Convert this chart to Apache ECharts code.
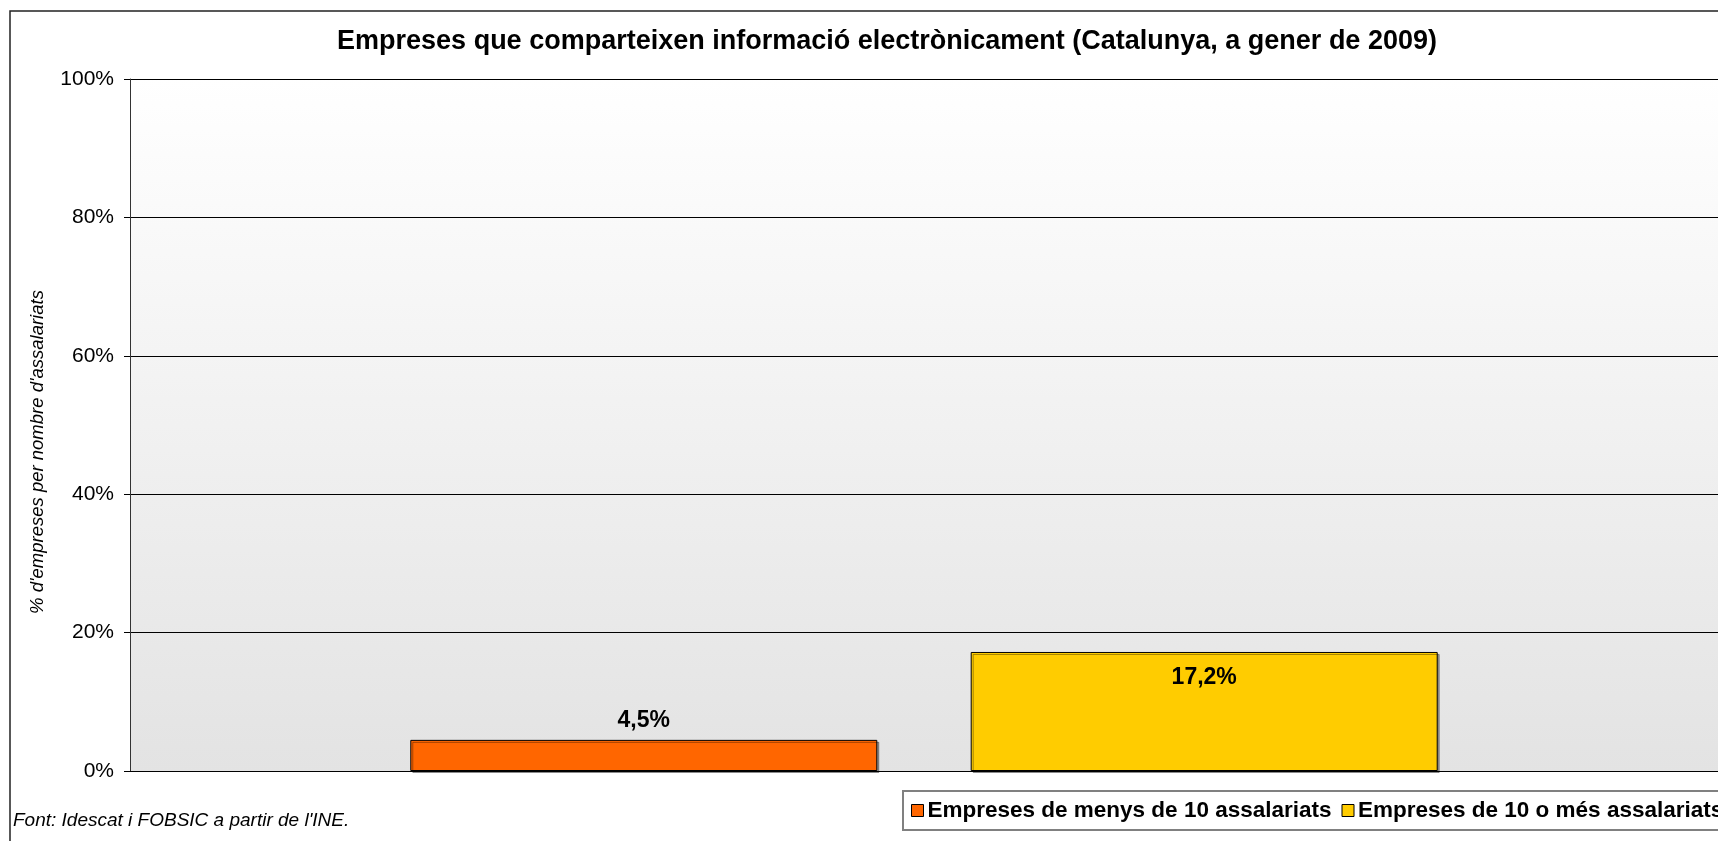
<!DOCTYPE html>
<html>
<head>
<meta charset="utf-8">
<title>Empreses que comparteixen informació electrònicament</title>
<script src="https://cdn.jsdelivr.net/npm/echarts@6/dist/echarts.min.js"></script>
<style>
  html, body { margin: 0; padding: 0; background: #fff; }
  #chart { width: 1718px; height: 841px; }
</style>
</head>
<body>
<div id="chart"></div>
<script>
// dades llegides del gràfic
const categories = ['Catalunya']
const seriesNames = ['Empreses de menys de 10 assalariats', 'Empreses de 10 o més assalariats']
const menys10 = [4.5]
const mes10 = [17.2]
const colors = ['#ff6600', '#ffcc00']

const font = 'Arial, "Liberation Sans", sans-serif'
const fmtPct = (v) => String(v).replace('.', ',') + '%'

const chart = echarts.init(document.getElementById('chart'))

const barStyle = (color) => ({
  color,
  borderColor: '#000',
  borderWidth: 1,
  shadowColor: 'rgba(0,0,0,0.35)',
  shadowOffsetX: 2,
  shadowOffsetY: 2,
  shadowBlur: 0
})

chart.setOption({
  animation: false,
  textStyle: { fontFamily: font },
  title: {
    text: 'Empreses que comparteixen informació electrònicament (Catalunya, a gener de 2009)',
    left: 882,
    textAlign: 'center',
    top: 23,
    textStyle: { fontSize: 27, fontWeight: 'bold', color: '#000', fontFamily: font }
  },
  grid: {
    left: 130,
    top: 79,
    right: -6,
    bottom: 70,
    show: true,
    borderWidth: 0,
    backgroundColor: new echarts.graphic.LinearGradient(0, 0, 0, 1, [
      { offset: 0, color: '#ffffff' },
      { offset: 1, color: '#e3e3e3' }
    ])
  },
  legend: {
    left: 903,
    top: 791,
    width: 1200,
    padding: [8, 12, 8, 8],
    itemGap: 10,
    itemWidth: 12,
    itemHeight: 12,
    borderColor: '#808080',
    borderWidth: 2,
    backgroundColor: '#fff',
    icon: 'rect',
    textStyle: { fontSize: 22.5, fontWeight: 'bold', color: '#000', fontFamily: font, padding: [0, 0, 0, -1] },
    itemStyle: { borderColor: '#000', borderWidth: 1 },
    data: seriesNames
  },
  xAxis: {
    type: 'category',
    data: categories,
    axisLine: { lineStyle: { color: '#000', width: 1 } },
    axisTick: { show: false },
    axisLabel: { show: false }
  },
  yAxis: {
    type: 'value',
    min: 0,
    max: 100,
    interval: 20,
    axisLine: { show: true, lineStyle: { color: '#333', width: 1 } },
    axisTick: { show: true, length: 6, lineStyle: { color: '#000' } },
    axisLabel: { formatter: '{value}%', fontSize: 21, color: '#000', margin: 16 },
    splitLine: { lineStyle: { color: '#000', width: 1 } }
  },
  graphic: [
    {
      type: 'rect',
      shape: { x: 10, y: 11, width: 1800, height: 900 },
      style: { fill: 'none', stroke: '#222', lineWidth: 1.5 },
      silent: true
    },
    {
      type: 'text',
      x: 38,
      y: 452,
      rotation: Math.PI / 2,
      style: {
        text: "% d'empreses per nombre d'assalariats",
        font: 'italic 18.5px ' + font,
        fill: '#000',
        align: 'center',
        verticalAlign: 'middle'
      }
    },
    {
      type: 'text',
      left: 13,
      top: 811,
      style: {
        text: "Font: Idescat i FOBSIC a partir de l'INE.",
        font: 'italic 19px ' + font,
        fill: '#000'
      }
    }
  ],
  series: [
    {
      name: seriesNames[0],
      type: 'bar',
      data: menys10,
      barGap: '20%',
      barCategoryGap: '35.3%',
      itemStyle: barStyle(colors[0]),
      label: {
        show: true,
        position: 'top',
        distance: 8,
        formatter: (p) => fmtPct(p.value),
        fontSize: 23,
        fontWeight: 'bold',
        color: '#000'
      }
    },
    {
      name: seriesNames[1],
      type: 'bar',
      data: mes10,
      itemStyle: barStyle(colors[1]),
      label: {
        show: true,
        position: 'insideTop',
        distance: 14,
        formatter: (p) => fmtPct(p.value),
        fontSize: 23,
        fontWeight: 'bold',
        color: '#000'
      }
    }
  ]
})
</script>
</body>
</html>
